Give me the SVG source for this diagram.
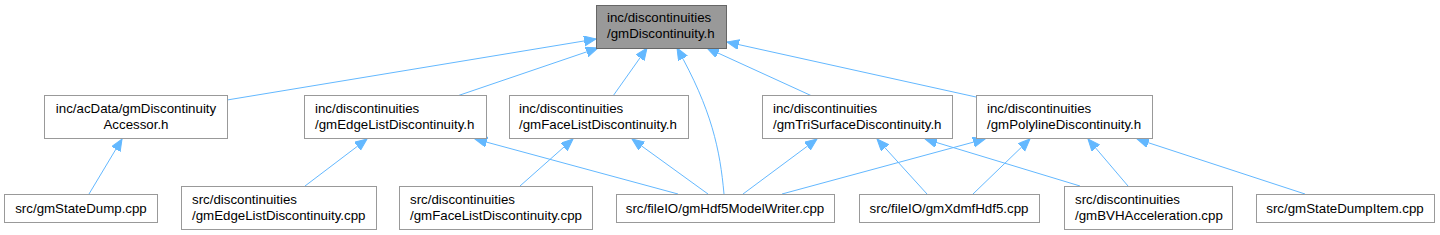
<svg xmlns="http://www.w3.org/2000/svg" width="1440" height="235" viewBox="0 0 1440 235">
<style>
.n rect{fill:#ffffff;stroke:#999999;stroke-width:1}
.r rect{fill:#999999;stroke:#666666;stroke-width:1}
text{font-family:"Liberation Sans",Arial,sans-serif;font-size:13.3px;fill:#000000}
.c{text-anchor:middle}
.e path{fill:none;stroke:#63b8ff;stroke-width:1;marker-end:url(#ah)}
</style>
<defs>
<marker id="ah" markerUnits="userSpaceOnUse" markerWidth="14" markerHeight="12" refX="12" refY="5" orient="auto">
<path d="M0,0 L12,5 L0,10 z" fill="#63b8ff" stroke="#63b8ff" stroke-width="1"/>
</marker>
</defs>
<g id="edges" class="e">
<path d="M227,100 L596,39"/>
<path d="M457,96 L598,48"/>
<path d="M613,96 L647,48"/>
<path d="M724,194 C720,150 712,110 677,48"/>
<path d="M812,96 L707,48"/>
<path d="M976,97 L727,42"/>
<path d="M89,194 L122,139"/>
<path d="M305,186 L367,139"/>
<path d="M678,194 L475,139"/>
<path d="M520,186 L573,139"/>
<path d="M708,194 L632,139"/>
<path d="M743,194 L817,139"/>
<path d="M782,194 L985,139"/>
<path d="M927,194 L877,139"/>
<path d="M1080,186 L925,139"/>
<path d="M973,194 L1030,139"/>
<path d="M1128,186 L1088,139"/>
<path d="M1305,194 L1137,139"/>
</g>
<g id="root" class="r"><rect x="596.5" y="5.5" width="130" height="43"/><text x="607" y="22">inc/discontinuities</text><text x="607" y="38">/gmDiscontinuity.h</text></g>
<g id="accessor" class="n"><rect x="44.5" y="95.5" width="183" height="43"/><text class="c" x="136" y="113">inc/acData/gmDiscontinuity</text><text class="c" x="136" y="129">Accessor.h</text></g>
<g id="edgelist_h" class="n"><rect x="304.5" y="95.5" width="182" height="43"/><text x="315" y="113">inc/discontinuities</text><text x="315" y="129">/gmEdgeListDiscontinuity.h</text></g>
<g id="facelist_h" class="n"><rect x="509.5" y="95.5" width="179" height="43"/><text x="519" y="113">inc/discontinuities</text><text x="519" y="129">/gmFaceListDiscontinuity.h</text></g>
<g id="trisurface_h" class="n"><rect x="762.5" y="95.5" width="190" height="43"/><text x="773" y="113">inc/discontinuities</text><text x="773" y="129">/gmTriSurfaceDiscontinuity.h</text></g>
<g id="polyline_h" class="n"><rect x="976.5" y="95.5" width="176" height="43"/><text x="987" y="113">inc/discontinuities</text><text x="987" y="129">/gmPolylineDiscontinuity.h</text></g>
<g id="statedump_cpp" class="n"><rect x="4.5" y="194.5" width="153" height="28"/><text class="c" x="81" y="213">src/gmStateDump.cpp</text></g>
<g id="edgelist_cpp" class="n"><rect x="181.5" y="186.5" width="195" height="43"/><text x="192" y="204">src/discontinuities</text><text x="192" y="220">/gmEdgeListDiscontinuity.cpp</text></g>
<g id="facelist_cpp" class="n"><rect x="399.5" y="186.5" width="193" height="43"/><text x="410" y="204">src/discontinuities</text><text x="410" y="220">/gmFaceListDiscontinuity.cpp</text></g>
<g id="hdf5writer_cpp" class="n"><rect x="616.5" y="194.5" width="218" height="28"/><text class="c" x="725" y="213">src/fileIO/gmHdf5ModelWriter.cpp</text></g>
<g id="xdmfhdf5_cpp" class="n"><rect x="859.5" y="194.5" width="180" height="28"/><text class="c" x="949" y="213">src/fileIO/gmXdmfHdf5.cpp</text></g>
<g id="bvh_cpp" class="n"><rect x="1064.5" y="186.5" width="168" height="43"/><text x="1075" y="204">src/discontinuities</text><text x="1075" y="220">/gmBVHAcceleration.cpp</text></g>
<g id="statedumpitem_cpp" class="n"><rect x="1256.5" y="194.5" width="178" height="28"/><text class="c" x="1345" y="213">src/gmStateDumpItem.cpp</text></g>
</svg>
